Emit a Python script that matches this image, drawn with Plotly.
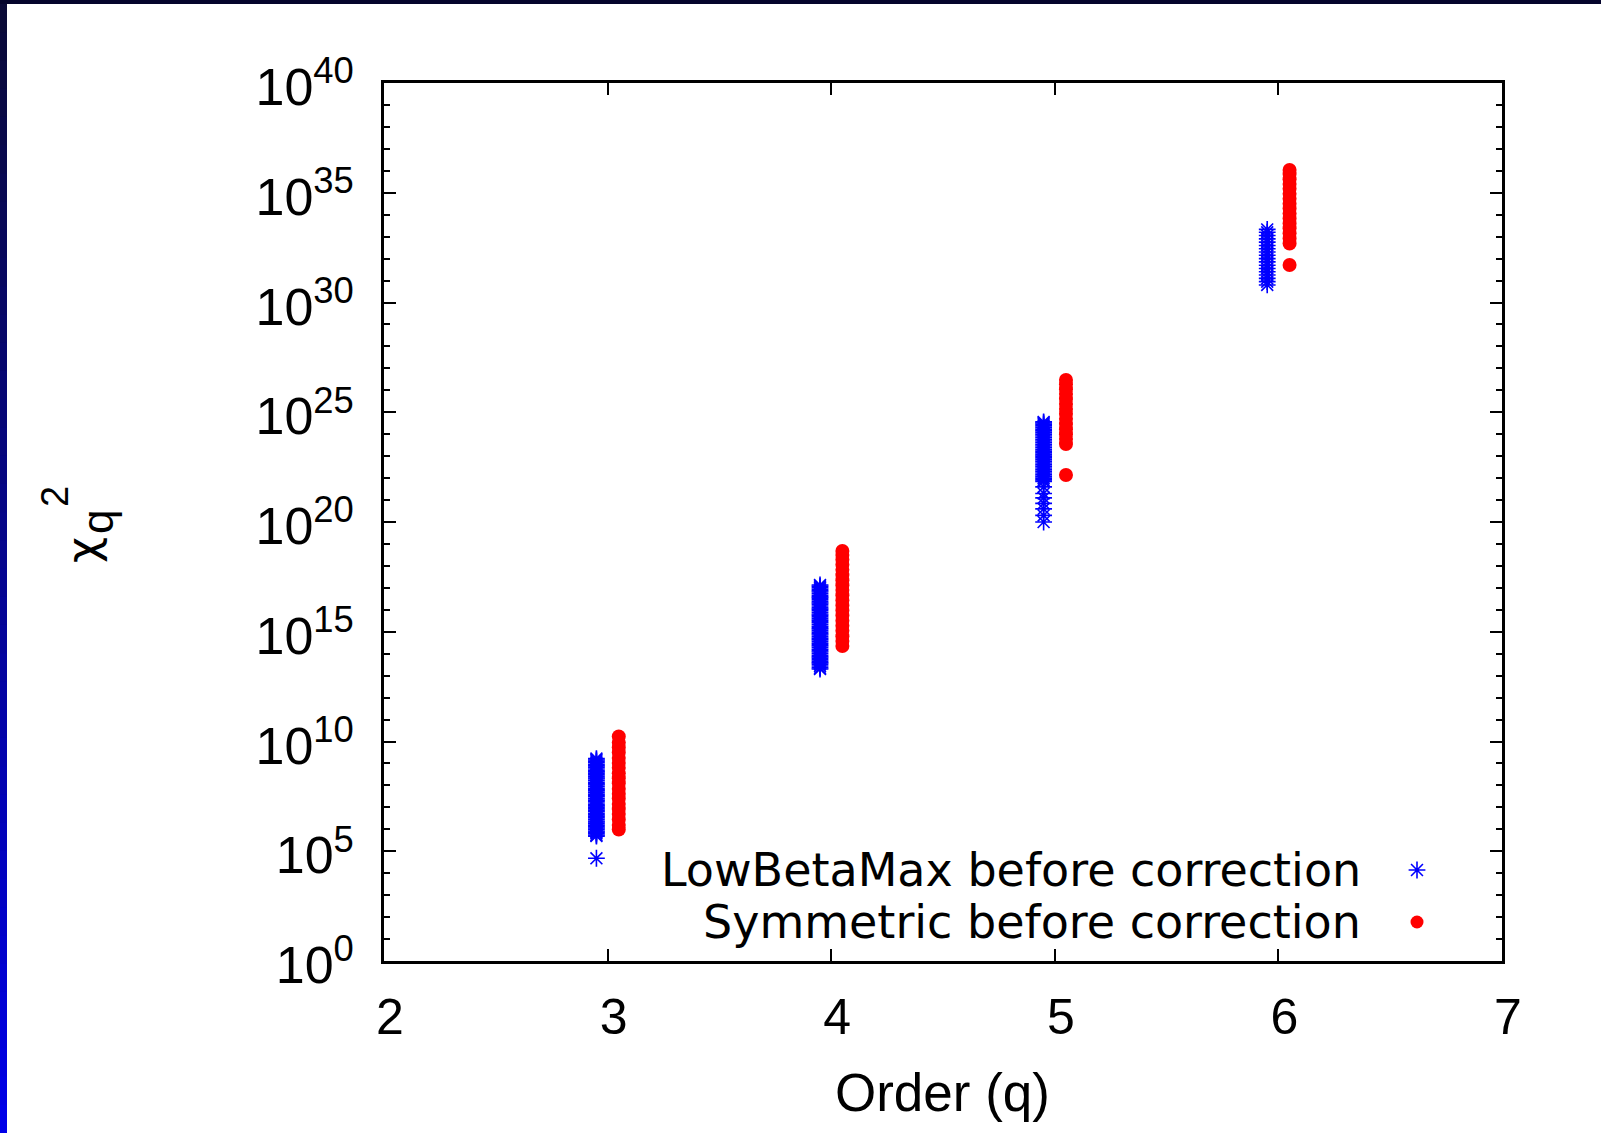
import plotly.graph_objects as go

# ---------------- data (log10 of chi^2 values) ----------------
orders = [3, 4, 5, 6]

lowbeta_q3 = [4.68, 5.69, 5.74, 5.81, 5.87, 5.92, 6.00, 6.06, 6.12, 6.19, 6.27, 6.33, 6.38, 6.46,
              6.53, 6.60, 6.66, 6.73, 6.81, 6.86, 6.93, 7.01, 7.07, 7.12, 7.20, 7.28, 7.33, 7.40,
              7.48, 7.54, 7.59, 7.67, 7.75, 7.80, 7.86, 7.94, 8.02, 8.07, 8.13, 8.21, 8.29, 8.34,
              8.40, 8.48, 8.56, 8.62, 8.67, 8.75, 8.83, 8.89, 8.95, 9.03, 9.10, 9.16, 9.22]
lowbeta_q4 = [13.30, 13.36, 13.44, 13.52, 13.58, 13.64, 13.72, 13.80, 13.86, 13.92, 14.00, 14.08,
              14.14, 14.20, 14.29, 14.36, 14.42, 14.48, 14.57, 14.64, 14.70, 14.77, 14.85, 14.91,
              14.97, 15.05, 15.13, 15.19, 15.25, 15.33, 15.41, 15.47, 15.53, 15.61, 15.69, 15.75,
              15.81, 15.89, 15.97, 16.03, 16.09, 16.17, 16.25, 16.31, 16.37, 16.45, 16.53, 16.59,
              16.65, 16.73, 16.81, 16.87, 16.93, 17.01, 17.07, 17.13]
lowbeta_q5 = [20.00, 20.30, 20.60, 20.85, 21.10, 21.30, 21.60, 21.85, 21.92, 22.00, 22.08, 22.15,
              22.23, 22.31, 22.38, 22.46, 22.54, 22.61, 22.69, 22.77, 22.84, 22.92, 23.00, 23.07,
              23.15, 23.23, 23.30, 23.38, 23.46, 23.53, 23.61, 23.69, 23.76, 23.84, 23.92, 23.99,
              24.07, 24.15, 24.22, 24.30, 24.38, 24.45, 24.51, 24.56]
lowbeta_q6 = [30.80, 30.95, 31.10, 31.25, 31.40, 31.55, 31.70, 31.85, 32.00, 32.15, 32.30, 32.45,
              32.60, 32.75, 32.90, 33.05, 33.20, 33.33]

symmetric_q3 = [5.99, 6.20, 6.45, 6.70, 6.92, 7.15, 7.40, 7.62, 7.85, 8.10, 8.33, 8.55, 8.80,
                9.02, 9.25, 9.50, 9.73, 9.95, 10.23]
symmetric_q4 = [14.35, 14.58, 14.80, 15.05, 15.27, 15.50, 15.74, 15.97, 16.20, 16.43, 16.66,
                16.90, 17.12, 17.35, 17.58, 17.82, 18.05, 18.28, 18.50, 18.68]
symmetric_q5 = [22.14, 23.55, 23.78, 24.00, 24.23, 24.46, 24.70, 24.93, 25.15, 25.38, 25.60,
                25.83, 26.05, 26.27, 26.47]
symmetric_q6 = [31.71, 32.69, 32.92, 33.15, 33.38, 33.60, 33.83, 34.05, 34.28, 34.50, 34.73,
                34.95, 35.18, 35.40, 35.62, 35.85, 36.04]

lowbeta_sets = [lowbeta_q3, lowbeta_q4, lowbeta_q5, lowbeta_q6]
symmetric_sets = [symmetric_q3, symmetric_q4, symmetric_q5, symmetric_q6]

series_names = ["LowBetaMax before correction", "Symmetric before correction"]
x_tick_vals = [2, 3, 4, 5, 6, 7]
y_tick_exps = [0, 5, 10, 15, 20, 25, 30, 35, 40]
y_tick_text = ["10<sup>%d</sup>" % e for e in y_tick_exps]

# ---------------- layout constants ----------------
W, H = 1601, 1133
L, R, T, B = 384, 1502, 83, 961
PW, PH = R - L, B - T
FONT = "Liberation Sans, Arial, Helvetica, sans-serif"
LEGFONT = "DejaVu Sans, Liberation Sans, sans-serif"
OFFSET = 0.05


def px(xp):
    return (xp - L) / PW


def py(yp):
    return (B - yp) / PH


def build(sets, sign):
    xs, ys = [], []
    for q, vals in zip(orders, sets):
        for v in vals:
            xs.append(q + sign * OFFSET)
            ys.append(10.0 ** v)
    return xs, ys


bx, by = build(lowbeta_sets, -1)
rx, ry = build(symmetric_sets, +1)

star = dict(symbol="asterisk-open", size=14, color="#0000ff",
            line=dict(color="#0000ff", width=1.6))
dot = dict(symbol="circle", size=14, color="#ff0000", line=dict(width=0))

fig = go.Figure()
fig.add_trace(go.Scatter(x=bx, y=by, mode="markers", name=series_names[0],
                         showlegend=False, marker=star))
fig.add_trace(go.Scatter(x=rx, y=ry, mode="markers", name=series_names[1],
                         showlegend=False, marker=dot))

# legend samples (gnuplot style: text left, symbol right) on an overlay axis
leg_rows = [870, 922]
fig.add_trace(go.Scatter(x=[px(1417)], y=[py(leg_rows[0])], xaxis="x2", yaxis="y2",
                         mode="markers", showlegend=False, hoverinfo="skip", marker=star))
fig.add_trace(go.Scatter(x=[px(1417)], y=[py(leg_rows[1])], xaxis="x2", yaxis="y2",
                         mode="markers", showlegend=False, hoverinfo="skip",
                         marker=dict(dot, size=13)))

annotations = []
for name, yy in zip(series_names, leg_rows):
    annotations.append(dict(
        text=name, xref="paper", yref="paper", x=px(1363), y=py(yy),
        xanchor="right", yanchor="middle", showarrow=False,
        font=dict(family=LEGFONT, size=46, color="black"),
    ))
# x title
annotations.append(dict(
    text="Order (q)", xref="paper", yref="paper", x=px(942), y=py(1092),
    xanchor="center", yanchor="middle", showarrow=False,
    font=dict(family=FONT, size=53, color="black"),
))
# y title: chi with stacked sub q / sup 2
annotations.append(dict(text="χ", xref="paper", yref="paper", x=px(82), y=py(550),
                        xanchor="center", yanchor="middle", showarrow=False, textangle=-90,
                        font=dict(family=LEGFONT, size=45, color="black")))
annotations.append(dict(text="q", xref="paper", yref="paper", x=px(97), y=py(522),
                        xanchor="center", yanchor="middle", showarrow=False, textangle=-90,
                        font=dict(family=FONT, size=44, color="black")))
annotations.append(dict(text="2", xref="paper", yref="paper", x=px(55), y=py(497),
                        xanchor="center", yanchor="middle", showarrow=False, textangle=-90,
                        font=dict(family=FONT, size=38, color="black")))

# border decoration (dark top band, gradient left band)
shapes = [dict(type="rect", xref="paper", yref="paper", x0=px(0), x1=px(W), y0=py(0), y1=py(4),
               fillcolor="rgb(4,4,44)", line=dict(width=0), layer="above")]
N = 40
for i in range(N):
    t = i / (N - 1)
    r_ = int(10 * (1 - t))
    g_ = int(10 * (1 - t))
    b_ = int(55 + (232 - 55) * t)
    y0p = 4 + (H - 4) * i / N
    y1p = 4 + (H - 4) * (i + 1) / N + 1
    shapes.append(dict(type="rect", xref="paper", yref="paper", x0=px(0), x1=px(7),
                       y0=py(y0p), y1=py(y1p), fillcolor="rgb(%d,%d,%d)" % (r_, g_, b_),
                       line=dict(width=0), layer="above"))

fig.update_layout(
    width=W, height=H,
    margin=dict(l=L, r=W - R, t=T, b=H - B, autoexpand=False),
    paper_bgcolor="white", plot_bgcolor="white",
    showlegend=False,
    font=dict(family=FONT, color="black"),
    xaxis=dict(
        range=[2, 7], tickmode="array", tickvals=x_tick_vals,
        ticks="inside", ticklen=12, tickwidth=2, tickcolor="black",
        showline=True, linewidth=2.5, linecolor="black", mirror="allticks",
        showgrid=False, zeroline=False,
        tickfont=dict(family=FONT, size=50, color="black"),
        ticklabelstandoff=10, ticklabelshift=6,
    ),
    yaxis=dict(
        type="log", range=[0, 40], tickmode="array",
        tickvals=[10.0 ** e for e in y_tick_exps], ticktext=y_tick_text,
        ticks="inside", ticklen=12, tickwidth=2, tickcolor="black",
        showline=True, linewidth=2.5, linecolor="black", mirror="allticks",
        showgrid=False, zeroline=False,
        tickfont=dict(family=FONT, size=52, color="black"),
        ticklabelstandoff=17, ticklabelshift=4,
        minor=dict(tickmode="array", tickvals=[10.0 ** k for k in range(41) if k % 5],
                   ticks="inside", ticklen=6, tickwidth=2, tickcolor="black", showgrid=False),
    ),
    xaxis2=dict(domain=[0, 1], range=[0, 1], overlaying="x", visible=False, fixedrange=True),
    yaxis2=dict(domain=[0, 1], range=[0, 1], overlaying="y", visible=False, fixedrange=True),
    annotations=annotations,
    shapes=shapes,
)

fig.write_html("out.html")
